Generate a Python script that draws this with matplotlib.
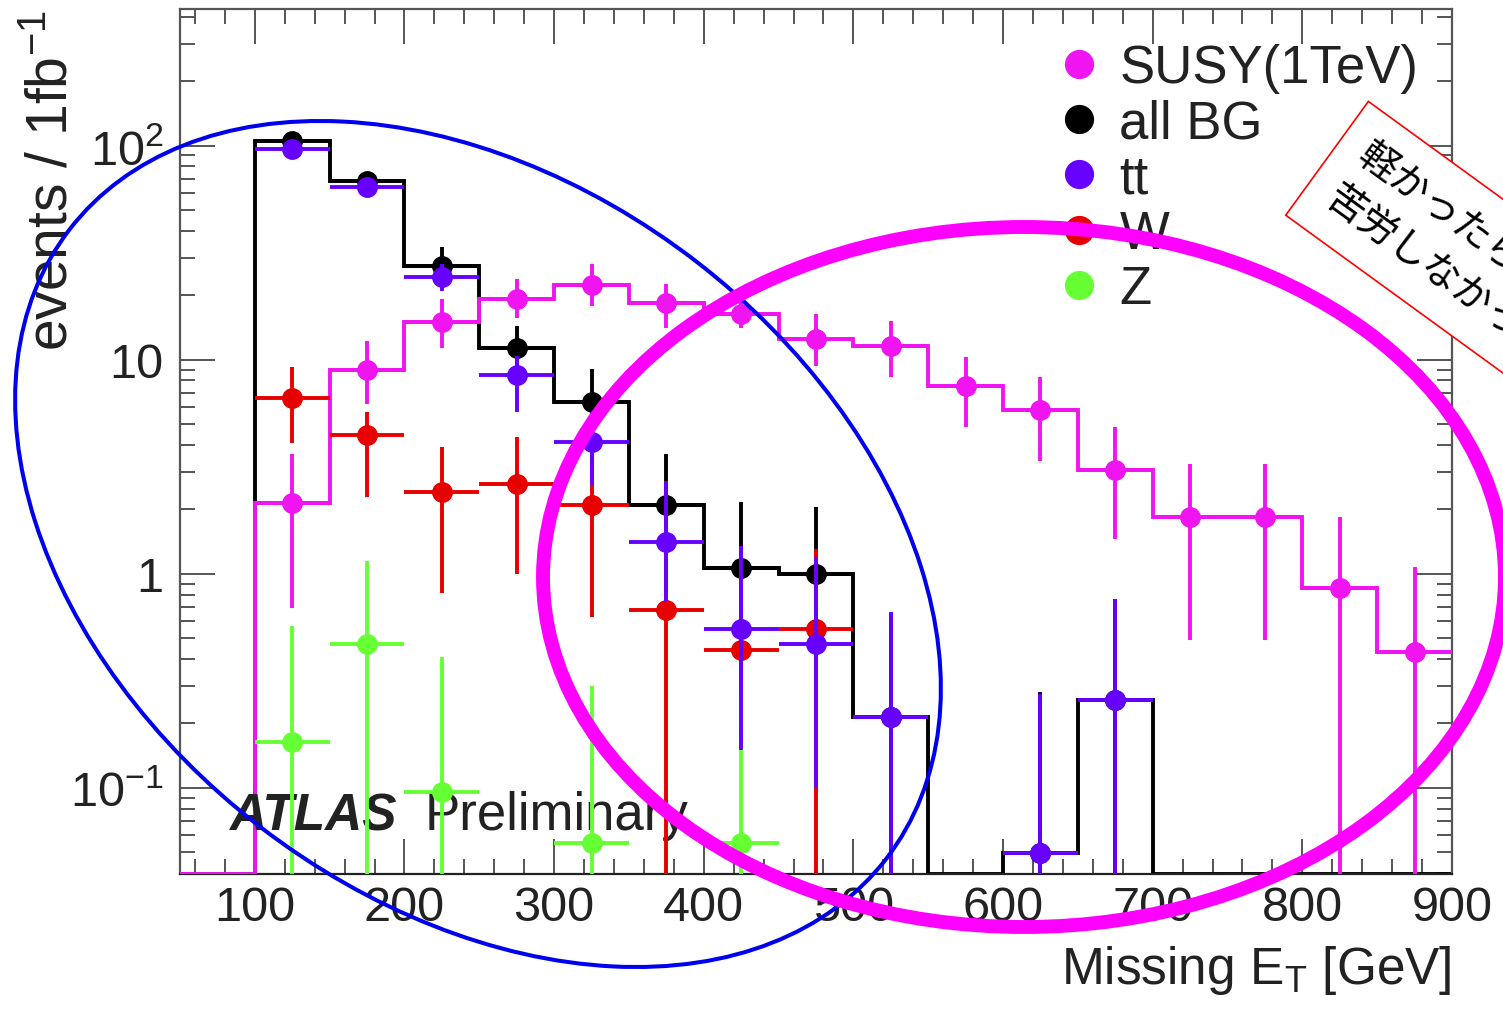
import numpy as np
import matplotlib
matplotlib.use("Agg")
import matplotlib.pyplot as plt
from matplotlib.lines import Line2D
from matplotlib.patches import Ellipse

plt.rcParams["font.family"] = ["Liberation Sans", "DejaVu Sans"]
plt.rcParams["mathtext.default"] = "regular"

# bin edges of the MET histogram (GeV)
edges = np.arange(50, 901, 50)
centers = edges[1:-1] + 25  # 125 ... 875

# events / 1fb-1, bins 100-150 ... 850-900
susy = [2.15, 9.0, 15.0, 19.3, 22.3, 18.4, 16.4, 12.5, 11.6, 7.55, 5.8, 3.05, 1.85, 1.85, 0.86, 0.43]
susy_lo = [0.69, 6.2, 11.3, 15.6, 17.9, 14.0, 14.0, 9.3, 8.3, 4.86, 3.37, 1.46, 0.49, 0.49, 0, 0]
susy_hi = [3.64, 12.3, 19.3, 23.8, 28.0, 22.7, 19.9, 16.4, 15.2, 10.3, 8.3, 4.86, 3.27, 3.27, 1.85, 1.08]

allbg = [105, 68.5, 27.5, 11.4, 6.35, 2.1, 1.06, 1.0, 0.214, 0, 0.0497, 0.258, 0, 0, 0, 0]
allbg_lo = [98, 63, 22, 9.0, 4.5, 1.0, 0.4, 0.3, 0, 0, 0, 0, 0, 0, 0, 0]
allbg_hi = [112, 74, 33.8, 14.4, 9.1, 3.64, 2.17, 2.06, 0.65, 0, 0.28, 0.76, 0, 0, 0, 0]

tt = [97, 64, 24.4, 8.5, 4.14, 1.41, 0.553, 0.47, 0.214, 0, 0.0497, 0.258, 0, 0, 0, 0]
tt_lo = [90, 59, 21, 5.7, 2.6, 0.75, 0.15, 0.1, 0, 0, 0, 0, 0, 0, 0, 0]
tt_hi = [104, 69, 28, 10.4, 5.7, 2.7, 1.35, 1.2, 0.66, 0, 0.275, 0.76, 0, 0, 0, 0]

w = [6.6, 4.45, 2.4, 2.64, 2.1, 0.68, 0.44, 0.55, 0, 0, 0, 0, 0, 0, 0, 0]
w_lo = [4.1, 2.29, 0.81, 1.0, 0.63, 0, 0.30, 0, 0, 0, 0, 0, 0, 0, 0, 0]
w_hi = [9.2, 5.7, 3.9, 4.37, 3.6, 2.12, 1.35, 1.31, 0, 0, 0, 0, 0, 0, 0, 0]

z = [0.164, 0.47, 0.096, 0, 0.055, 0, 0.055, 0, 0, 0, 0, 0, 0, 0, 0, 0]
z_lo = [0] * 16
z_hi = [0.57, 1.15, 0.41, 0, 0.30, 0, 0.30, 0, 0, 0, 0, 0, 0, 0, 0, 0]

labels = ["SUSY(1TeV)", "all BG", "tt", "W", "Z"]
colors = ["#f014f0", "#000000", "#6600ff", "#e60000", "#66ff33"]

y_lo, y_hi = 0.0396, 435
txt = "#222222"

fig = plt.figure(figsize=(15.03, 10.12), dpi=100)
ax = fig.add_axes([180 / 1503, 137 / 1012, 1272 / 1503, 865 / 1012])
ax.set_yscale("log")
ax.set_xlim(50, 900)
ax.set_ylim(y_lo, y_hi)


def floor(vals):
    return np.maximum(np.asarray(vals, float), y_lo)


def points(vals, lo, hi, color, z_order):
    v = np.asarray(vals, float)
    m = v > 0
    lo = np.maximum(np.asarray(lo, float), 1e-4)
    hi = np.asarray(hi, float)
    yerr = [v[m] - lo[m], hi[m] - v[m]]
    ax.errorbar(centers[m], v[m], xerr=25, yerr=yerr, fmt="o", ms=14, color=color,
                elinewidth=2.8, capsize=0, zorder=z_order)


# step histograms (zero bins drawn on the frame floor, ROOT style)
ax.stairs(floor([0] + allbg), edges, baseline=None, color="black", lw=2.8, zorder=2)
points(allbg, allbg_lo, allbg_hi, "black", 2.5)
ax.stairs(floor([0] + susy), edges, baseline=None, color=colors[0], lw=2.8, zorder=3)
points(susy, susy_lo, susy_hi, colors[0], 3.5)
points(z, z_lo, z_hi, colors[4], 4)
points(w, w_lo, w_hi, colors[3], 4.5)
points(tt, tt_lo, tt_hi, colors[2], 5)

# axes styling (ticks on all sides, inward)
ax.set_xticks([100, 200, 300, 400, 500, 600, 700, 800, 900])
ax.set_xticks(np.arange(60, 900, 20), minor=True)
ax.set_yticks([0.1, 1, 10, 100])
ax.set_yticklabels([r"$10^{-1}$", "1", "10", r"$10^{2}$"])
ax.tick_params(which="both", direction="in", top=True, right=True, colors="#555555",
               labelcolor=txt, labelsize=35, width=1.4)
ax.tick_params(which="major", length=25)
ax.tick_params(which="minor", length=11)
ax.tick_params(axis="x", pad=8)
ax.tick_params(axis="y", pad=12)
for s in ax.spines.values():
    s.set_color("#555555")
    s.set_linewidth(1.6)
ax.spines["bottom"].set_color("#222222")

ax.set_xlabel(r"Missing E$_T$ [GeV]", fontsize=37, color=txt, loc="right")
ax.xaxis.set_label_coords(1.0, -0.08)
ax.set_ylabel(r"events / 1fb$^{-1}$", fontsize=41, color=txt, loc="top")
ax.yaxis.set_label_coords(-0.08, 1.0)

ax.text(0.0385, 0.052, "ATLAS", transform=ax.transAxes, fontsize=37, fontweight="bold",
        fontstyle="italic", color=txt, va="baseline")
ax.text(0.1926, 0.052, "Preliminary", transform=ax.transAxes, fontsize=38, color=txt,
        va="baseline")

handles = [Line2D([], [], marker="o", ls="none", color=c, ms=20) for c in colors]
ax.legend(handles, labels, loc="upper left", bbox_to_anchor=(0.668, 0.991), frameon=False,
          fontsize=38, labelspacing=0.1, handlelength=0.85, handletextpad=0.35,
          borderpad=0, labelcolor=txt)

# hand-drawn annotation overlay (figure pixel coordinates)
ov = fig.add_axes([0, 0, 1, 1], zorder=10)
ov.set_xlim(0, 1503)
ov.set_ylim(1012, 0)
ov.axis("off")
ov.patch.set_alpha(0)
ov.add_patch(Ellipse((478, 545), 1031, 714, angle=37.6, fill=False, ec="#0000ee", lw=2.9))
ov.add_patch(Ellipse((1024, 578), 962, 700, angle=0, fill=False, ec="#ff00ff", lw=10))
ov.text(1456, 253, "軽かったら\n苦労しなかった", rotation=-36, rotation_mode="anchor",
        ha="center", va="center", multialignment="left", fontsize=28, linespacing=1.45,
        family=["Noto Sans CJK JP", "DejaVu Sans"], color="black",
        bbox=dict(boxstyle="square,pad=0.6", fc="white", ec="red", lw=1.2))

fig.savefig("out.png", dpi=100)
